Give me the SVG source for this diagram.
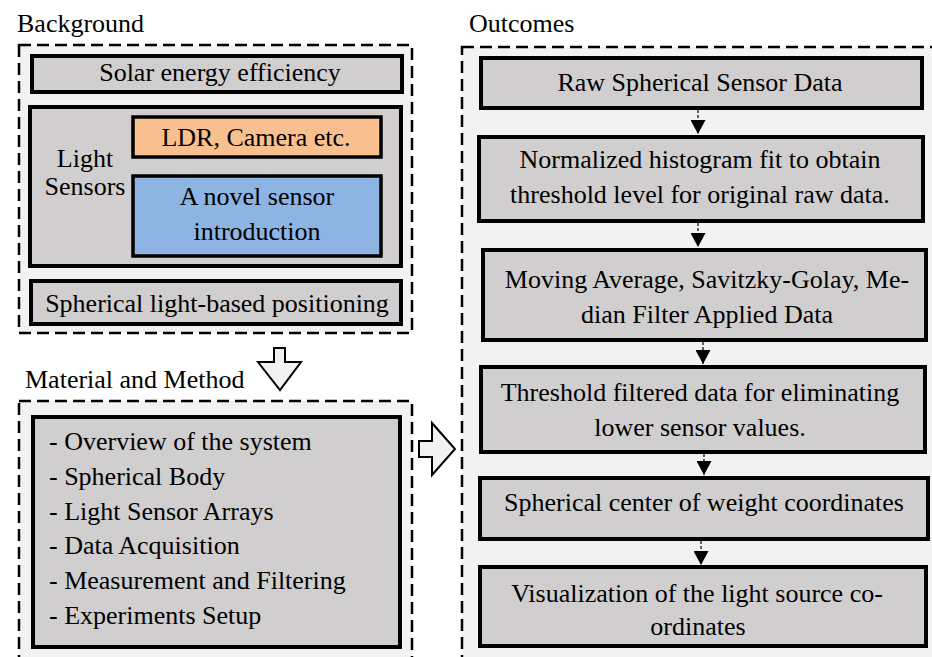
<svg xmlns="http://www.w3.org/2000/svg" width="932" height="657" viewBox="0 0 932 657">
<style>
text{font-family:'Liberation Serif',serif;font-size:26px;fill:#000}
.c{text-anchor:middle}
.grp{fill:#f2f2f2;stroke:#000;stroke-width:2.5;stroke-dasharray:12 6}
.box{fill:#d0cece;stroke:#000;stroke-width:4}
.blk{fill:#f2f2f2;stroke:#000;stroke-width:2;stroke-linejoin:miter}
.con{stroke:#000;stroke-width:1.2;stroke-dasharray:3 2;fill:none}
</style>
<defs>
<marker id="ah" viewBox="0 0 14 15" refX="14" refY="7.5" markerWidth="14" markerHeight="15" markerUnits="userSpaceOnUse" orient="auto">
<path d="M0,0 L14,7.5 L0,15 Z" fill="#000"/>
</marker>
</defs>
<rect width="932" height="657" fill="#fff"/>

<g id="background" font-family="Liberation Serif, serif">
<text x="17" y="32">Background</text>
<rect class="grp" x="19" y="45" width="393" height="288"/>
<g id="solar">
<rect class="box" x="32" y="56" width="370" height="36"/>
<text class="c" x="220" y="81">Solar energy efficiency</text>
</g>
<g id="light-sensors">
<rect class="box" x="30" y="107" width="371" height="159"/>
<text class="c" x="85" y="167">Light</text>
<text class="c" x="85" y="195">Sensors</text>
</g>
<g id="ldr">
<rect x="133" y="117" width="248" height="40" fill="#f9c08f" stroke="#000" stroke-width="3.5"/>
<text class="c" x="256" y="146">LDR, Camera etc.</text>
</g>
<g id="novel">
<rect x="133" y="176" width="248" height="80" fill="#8db4e2" stroke="#000" stroke-width="3.5"/>
<text class="c" x="257" y="205">A novel sensor</text>
<text class="c" x="257" y="240">introduction</text>
</g>
<g id="spherical">
<rect class="box" x="31" y="281" width="370" height="43"/>
<text class="c" x="217" y="312">Spherical light-based positioning</text>
</g>
</g>

<g id="material">
<text x="25" y="388">Material and Method</text>
<rect class="grp" x="19" y="401" width="393" height="280"/>
<g id="method-list">
<rect class="box" x="33" y="417" width="367" height="230"/>
<text x="49" y="450">- Overview of the system</text>
<text x="49" y="485">- Spherical Body</text>
<text x="49" y="520">- Light Sensor Arrays</text>
<text x="49" y="554">- Data Acquisition</text>
<text x="49" y="589">- Measurement and Filtering</text>
<text x="49" y="624">- Experiments Setup</text>
</g>
</g>

<g id="outcomes">
<text x="469" y="32">Outcomes</text>
<rect class="grp" x="462" y="47" width="490" height="630"/>
<g id="raw">
<rect class="box" x="481" y="58" width="441" height="50"/>
<text class="c" x="700" y="91">Raw Spherical Sensor Data</text>
</g>
<g id="histogram">
<rect class="box" x="479" y="137" width="444" height="84"/>
<text class="c" x="700" y="168">Normalized histogram fit to obtain</text>
<text class="c" x="700" y="203">threshold level for original raw data.</text>
</g>
<g id="filters">
<rect class="box" x="483" y="250" width="443" height="90"/>
<text class="c" x="707" y="288">Moving Average, Savitzky-Golay, Me-</text>
<text class="c" x="707" y="323">dian Filter Applied Data</text>
</g>
<g id="threshold">
<rect class="box" x="481" y="367" width="444" height="85"/>
<text class="c" x="700" y="401">Threshold filtered data for eliminating</text>
<text class="c" x="700" y="436">lower sensor values.</text>
</g>
<g id="center">
<rect class="box" x="480" y="478" width="448" height="61"/>
<text class="c" x="704" y="511">Spherical center of weight coordinates</text>
</g>
<g id="visualization">
<rect class="box" x="480" y="567" width="446" height="79"/>
<text class="c" x="697" y="602">Visualization of the light source co-</text>
<text class="c" x="698" y="635">ordinates</text>
</g>
</g>

<g id="connectors">
<path class="blk" d="M274,348 L285,348 L285,362 L301,362 L280,390 L258,362 L274,362 Z"/>
<path class="blk" d="M419,441 L432,441 L432,423 L455,449 L432,475 L432,457 L419,457 Z"/>
<line class="con" x1="698" y1="110" x2="698" y2="134" marker-end="url(#ah)"/>
<line class="con" x1="698" y1="223" x2="698" y2="247" marker-end="url(#ah)"/>
<line class="con" x1="703" y1="342" x2="703" y2="364" marker-end="url(#ah)"/>
<line class="con" x1="704" y1="454" x2="704" y2="475" marker-end="url(#ah)"/>
<line class="con" x1="701" y1="541" x2="701" y2="565" marker-end="url(#ah)"/>
</g>
</svg>
